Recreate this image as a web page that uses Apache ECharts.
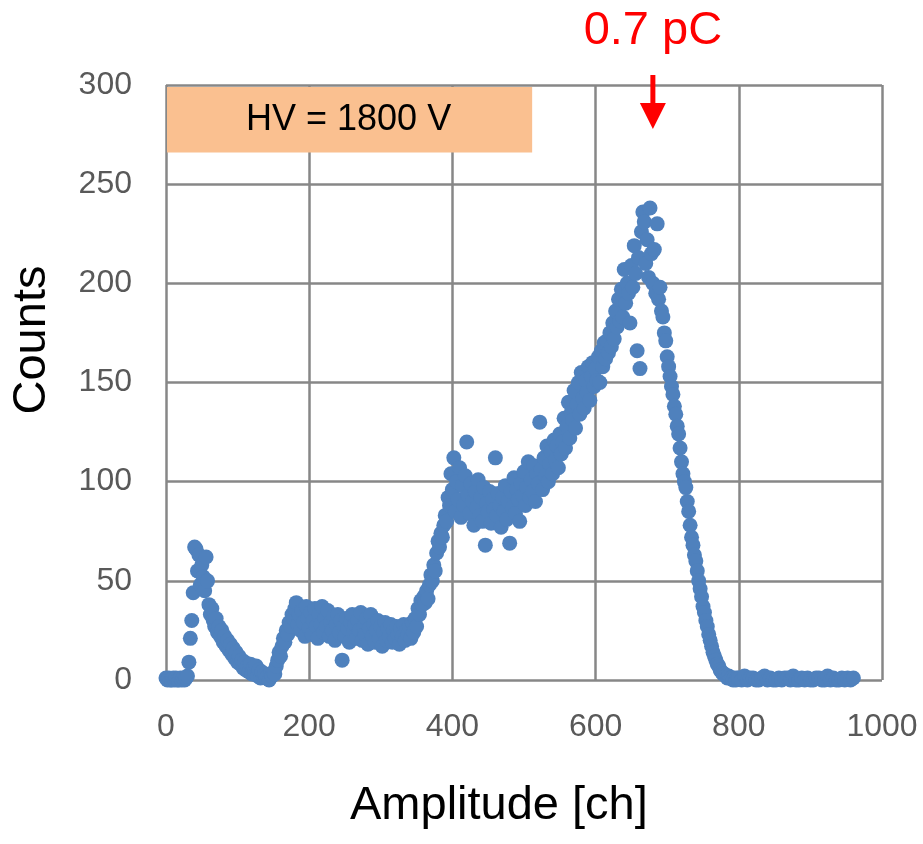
<!DOCTYPE html>
<html>
<head>
<meta charset="utf-8">
<script src="https://cdn.jsdelivr.net/npm/echarts@6/dist/echarts.min.js"></script>
<style>
html, body { margin: 0; padding: 0; background: #fff; }
#main { width: 923px; height: 844px; }
</style>
</head>
<body>
<div id="main"></div>
<script>
// counts per channel (every 2nd channel, every 4th above 800)
const channelStep = 2;
const lowPeakStart = 0;
const lowPeakCounts = [1,0,1,0,0,1,0,1,0,0,1,0,1,0,1,2,9,21,30,44,67,66,55,63,48,58,52,45,62,50,
  38,33,36,30,27,31,24,27,22,25,19,22,17,20,15,18,13,16,11,14,9,12,8,10,6,9,5,7,4,8,
  3,6,4,7,2,5,1,4,2,3,1,2,0,3,2,4,3,7,10,14,12,17,21,19,25,23,29,27,33,31];
const plateauStart = 180;
const plateauCounts = [36,39,28,33,25,35,29,22,37,31, 26,34,23,30,36,27,21,33,28,37,
  24,31,27,35,22,29,25,32,20,28, 33,24,30,10,27,22,31,26,19,29,
  33,24,28,21,30,25,34,20,27,23, 31,18,26,33,22,28,19,25,30,21,
  27,17,24,29,20,26,22,28,19,25, 21,27,23,18,26,22,28,20,25,23,
  27,21,29,24,31,27,36,33,40,38];
const shoulderStart = 360;
const shoulderCounts = [42,39,45,41,48,53,50,58,55,64, 70,67,74,72,78,83,80,92,88,104,
  96,112,85,100,91,107,82,98,88,103, 120,93,84,99,90,78,95,87,101,83,
  92,80,97,68,89,85,95,79,91,86, 112,83,94,88,77,92,85,98,81,90,
  69,95,87,102,84,96,91,80,99,93, 105,88,97,110,92,101,95,108,90,104,
  99,130,106,96,112,103,118,100,109,115, 104,121,111,118,107,124,114,120,132,117];
const mainPeakStart = 560;
const mainPeakCounts = [128,140,122,135,131,146,127,139,150,134, 155,142,137,151,145,158,141,153,160,148,
  157,151,163,150,166,158,170,162,171,165, 175,168,180,172,186,178,192,181,197,183,
  207,190,200,195,180,209,198,219,205,166, 213,157,226,236,231,210,222,203,238,215,
  200,217,195,230,192,198,186,183,175,171];
const tailStart = 700;
const tailCounts = [163,158,153,148,144,138,134,128,124,117, 110,104,100,97,90,85,78,72,68,63,
  60,55,50,46,42,37,34,30,27,23, 20,17,14,12,10,8,7,5,4,3,
  3,2,1,2,1,1,0,1,0,1];
const flatStart = 800;
const flatStep = 4;
const flatCounts = [1,0,2,0,1,1,0,0,1,2,0,1,0,0,1,0,1,1,0,2,0,0,1,0,1,0,0,1,1,0,0,2,0,1,0,0,1,0,1,0,1];

const xTicks = [0, 200, 400, 600, 800, 1000];
const yTicks = [0, 50, 100, 150, 200, 250, 300];
const hvLabel = 'HV = 1800 V';
const peakLabel = '0.7 pC';
const peakChannel = 680;

function toPoints(start, step, arr) {
  return arr.map((c, i) => [start + i * step, c]);
}
const points = [].concat(
  toPoints(lowPeakStart, channelStep, lowPeakCounts),
  toPoints(plateauStart, channelStep, plateauCounts),
  toPoints(shoulderStart, channelStep, shoulderCounts),
  toPoints(mainPeakStart, channelStep, mainPeakCounts),
  toPoints(tailStart, channelStep, tailCounts),
  toPoints(flatStart, flatStep, flatCounts)
);

const font = 'Liberation Sans, Arial, sans-serif';
const gridColor = '#878787';

const myChart = echarts.init(document.getElementById('main'));
const axisTitles = [
  {
    type: 'text', left: 350, top: 783,
    style: { text: 'Amplitude [ch]', fontSize: 47, fontFamily: font, fill: '#000' }
  },
  {
    type: 'text', x: 32, y: 340, rotation: Math.PI / 2,
    style: { text: 'Counts', fontSize: 47, fontFamily: font, fill: '#000', align: 'center', verticalAlign: 'middle' }
  }
];
const option = {
  animation: false,
  grid: { left: 166, right: 41, top: 85, bottom: 164 },
  xAxis: {
    type: 'value',
    min: xTicks[0],
    max: xTicks[xTicks.length - 1],
    interval: xTicks[1] - xTicks[0],
    axisLine: { show: false },
    axisTick: { show: false },
    axisLabel: { color: '#595959', fontSize: 32, fontFamily: font, margin: 31, formatter: v => String(v) },
    splitLine: { show: true, lineStyle: { color: gridColor, width: 2.5 } }
  },
  yAxis: {
    type: 'value',
    min: yTicks[0],
    max: yTicks[yTicks.length - 1],
    interval: yTicks[1] - yTicks[0],
    axisLine: { show: false },
    axisTick: { show: false },
    axisLabel: { color: '#595959', fontSize: 32, fontFamily: font, margin: 34, formatter: v => String(v) },
    splitLine: { show: true, lineStyle: { color: gridColor, width: 2.5 } }
  },
  series: [
    {
      type: 'scatter',
      data: points,
      symbol: 'circle',
      symbolSize: 15,
      itemStyle: { color: '#4F81BD', opacity: 1 },
      z: 5
    }
  ],
  graphic: axisTitles
};
myChart.setOption(option);

// annotations placed through the axes
const boxTL = myChart.convertToPixel({ gridIndex: 0 }, [0, 300]);
const boxBR = myChart.convertToPixel({ gridIndex: 0 }, [510, 267]);
const peakPx = myChart.convertToPixel({ gridIndex: 0 }, [peakChannel, 300]);
myChart.setOption({
  graphic: axisTitles.concat([
    {
      type: 'rect', z: 10,
      shape: { x: boxTL[0] + 1, y: boxTL[1] + 2, width: boxBR[0] - boxTL[0], height: boxBR[1] - boxTL[1] },
      style: { fill: '#FAC090' }
    },
    {
      type: 'text', z: 11,
      x: (boxTL[0] + boxBR[0]) / 2, y: (boxTL[1] + boxBR[1]) / 2 + 2,
      style: { text: hvLabel, fontSize: 36, fontFamily: font, fill: '#000', align: 'center', verticalAlign: 'middle' }
    },
    {
      type: 'text', z: 11,
      x: peakPx[0], y: 31,
      style: { text: peakLabel, fontSize: 47, fontFamily: font, fill: '#FF0000', align: 'center', verticalAlign: 'middle' }
    },
    {
      type: 'line', z: 11,
      shape: { x1: peakPx[0], y1: 75, x2: peakPx[0], y2: 106 },
      style: { stroke: '#FF0000', lineWidth: 5 }
    },
    {
      type: 'polygon', z: 11,
      shape: { points: [[peakPx[0] - 13, 103], [peakPx[0] + 13, 103], [peakPx[0], 129]] },
      style: { fill: '#FF0000' }
    }
  ])
});
</script>
</body>
</html>
